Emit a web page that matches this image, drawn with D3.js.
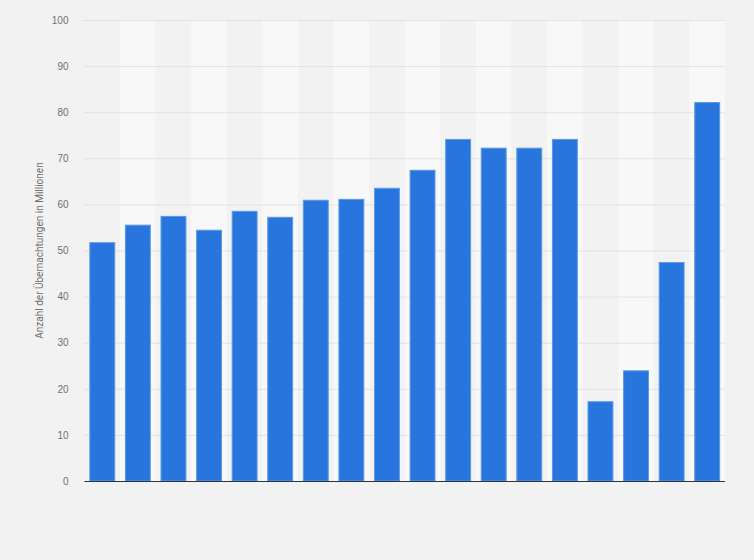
<!DOCTYPE html>
<html>
<head>
<meta charset="utf-8">
<script src="https://cdn.jsdelivr.net/npm/d3@7"></script>
<style>
  body { margin: 0; background: #f2f2f2; }
  svg { display: block; font-family: Roboto, "Open Sans", Arial, sans-serif; }
</style>
</head>
<body>
<div id="chart"></div>
<script>
var svgWidth = 754;
var svgHeight = 560;

var margin = { top: 20, right: 29, bottom: 79, left: 84.5 };
var width = svgWidth - margin.left - margin.right;
var height = svgHeight - margin.top - margin.bottom;

// data (no category labels are shown)
var categories = d3.range(1, 19).map(String);
var values = [51.7, 55.5, 57.4, 54.4, 58.5, 57.2, 60.9, 61.1, 63.5, 67.4,
              74.1, 72.2, 72.2, 74.1, 17.2, 23.9, 47.4, 82.1];
var yTicks = [0, 10, 20, 30, 40, 50, 60, 70, 80, 90, 100];
var yLabel = "Anzahl der Übernachtungen in Millionen";

var svg = d3.select("#chart")
  .append("svg")
  .attr("width", svgWidth)
  .attr("height", svgHeight);

var chartGroup = svg.append("g")
  .attr("transform", `translate(${margin.left}, ${margin.top})`);

var xScale = d3.scaleBand()
  .domain(categories)
  .range([0, width])
  .paddingInner(0.3)
  .paddingOuter(0.15);

var yScale = d3.scaleLinear()
  .domain([0, 100])
  .range([height, 0]);

// alternating column bands
var step = width / categories.length;
chartGroup.selectAll(".band")
  .data(categories)
  .enter()
  .append("rect")
  .attr("x", (d, i) => i * step)
  .attr("y", 0)
  .attr("width", step)
  .attr("height", height)
  .attr("fill", (d, i) => i % 2 ? "#f8f8f8" : "#f2f2f2");

// grid lines + tick labels
var leftAxis = d3.axisLeft(yScale)
  .tickValues(yTicks)
  .tickSize(-width)
  .tickPadding(16);

var yAxis = chartGroup.append("g").call(leftAxis);
yAxis.select(".domain").remove();
yAxis.selectAll(".tick line")
  .attr("stroke", "#cfcfcf")
  .attr("stroke-dasharray", "1,1");
yAxis.selectAll(".tick text")
  .attr("fill", "#707070")
  .style("font-size", "10px");

// bars
chartGroup.selectAll(".bar")
  .data(values)
  .enter()
  .append("rect")
  .attr("x", (d, i) => xScale(categories[i]))
  .attr("y", d => yScale(d))
  .attr("width", xScale.bandwidth())
  .attr("height", d => height - yScale(d))
  .attr("fill", "#2876dd")
  .attr("stroke", "#5b9ae6")
  .attr("stroke-width", 1);

// baseline
chartGroup.append("line")
  .attr("x1", 0)
  .attr("x2", width)
  .attr("y1", height + 0.5)
  .attr("y2", height + 0.5)
  .attr("stroke", "#333")
  .attr("stroke-width", 1.2);

// y axis title
svg.append("text")
  .attr("transform", `translate(43, ${margin.top + height / 2}) rotate(-90)`)
  .attr("text-anchor", "middle")
  .attr("fill", "#707070")
  .style("font-size", "10px")
  .text(yLabel);
</script>
</body>
</html>
